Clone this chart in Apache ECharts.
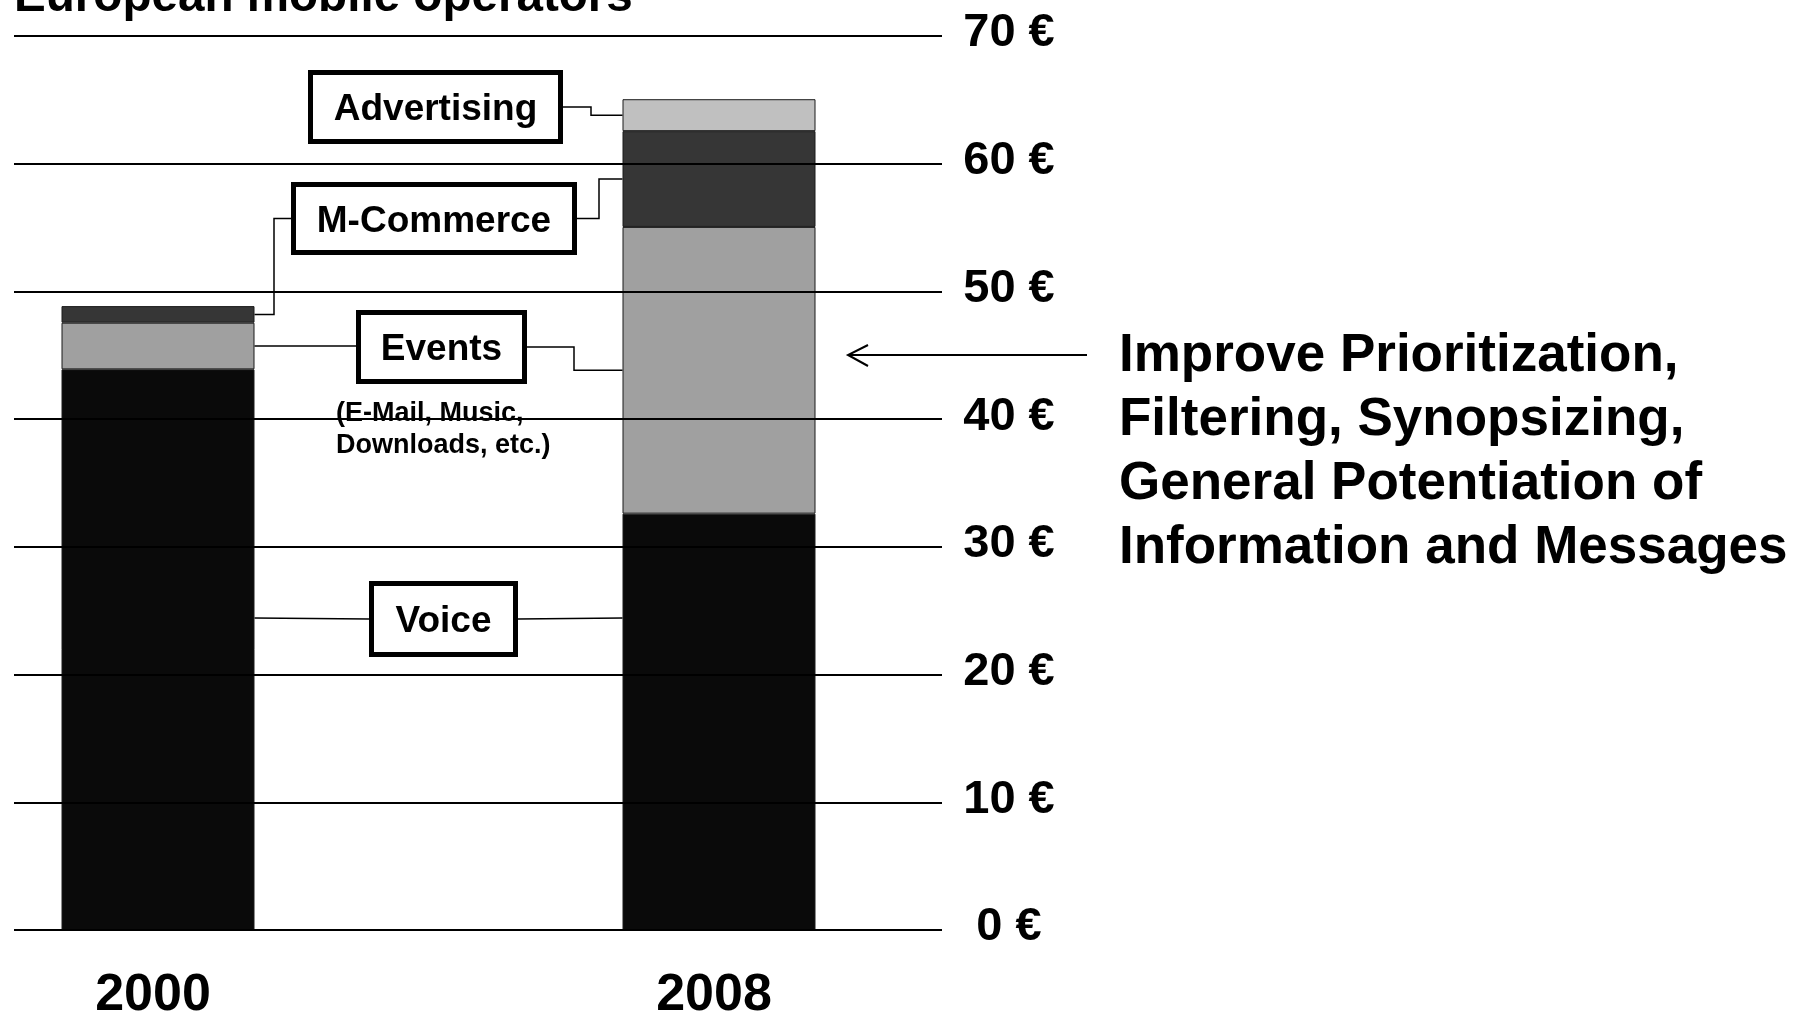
<!DOCTYPE html>
<html>
<head>
<meta charset="utf-8">
<script src="https://cdn.jsdelivr.net/npm/echarts@6/dist/echarts.min.js"></script>
<style>
html,body{margin:0;padding:0;background:#fff;}
#main{width:1805px;height:1013px;}
</style>
</head>
<body>
<div id="main"></div>
<script>
// ---- data ----
const years = ['2000', '2008'];
const voice = [43.9, 32.6];
const events = [3.65, 22.45];
const mcommerce = [1.3, 7.5];
const advertising = [null, 2.5];
const yTickValues = [0, 10, 20, 30, 40, 50, 60, 70];
const titleText = 'European mobile operators';
const sideText = ['Improve Prioritization,', 'Filtering, Synopsizing,', 'General Potentiation of', 'Information and Messages'];
const eventsNote = ['(E-Mail, Music,', 'Downloads, etc.)'];

const FONT = '"Liberation Sans", Arial, Helvetica, sans-serif';
const BAR_W = 193;

const seriesDefs = [
  { name: 'Voice', data: voice, color: '#0a0a0a' },
  { name: 'Events', data: events, color: '#a0a0a0' },
  { name: 'M-Commerce', data: mcommerce, color: '#363636' },
  { name: 'Advertising', data: advertising, color: '#c0c0c0' }
];

const chart = echarts.init(document.getElementById('main'), null, { renderer: 'canvas' });

const option = {
  backgroundColor: '#fff',
  animation: false,
  grid: [
    { left: 14, right: 863, top: 36, bottom: 83, containLabel: false, outerBoundsMode: 'none' },
    { left: -122.5, width: 1122, top: 36, bottom: 83, containLabel: false, outerBoundsMode: 'none' }
  ],
  xAxis: [
    { gridIndex: 0, type: 'value', min: 0, max: 1, show: false },
    {
      gridIndex: 1,
      type: 'category',
      data: years,
      splitLine: { show: false },
      axisLine: { show: false },
      axisTick: { show: false },
      axisLabel: {
        interval: 0,
        color: '#000',
        fontFamily: FONT,
        fontWeight: 'bold',
        fontSize: 52,
        margin: 40,
        padding: [0, 10, 0, 0]
      }
    }
  ],
  yAxis: [
    {
      gridIndex: 0,
      type: 'value',
      position: 'right',
      min: yTickValues[0],
      max: yTickValues[yTickValues.length - 1],
      interval: 10,
      z: 5,
      axisLine: { show: false },
      axisTick: { show: false },
      splitLine: { show: true, lineStyle: { color: '#000', width: 2 } },
      axisLabel: {
        formatter: v => v + ' €',
        color: '#000',
        fontFamily: FONT,
        fontWeight: 'bold',
        fontSize: 47,
        align: 'center',
        verticalAlign: 'bottom',
        lineHeight: 5,
        margin: 67
      }
    },
    {
      gridIndex: 1,
      type: 'value',
      min: yTickValues[0],
      max: yTickValues[yTickValues.length - 1],
      show: false
    }
  ],
  series: seriesDefs.map(s => ({
    name: s.name,
    type: 'bar',
    xAxisIndex: 1,
    yAxisIndex: 1,
    stack: 'total',
    barWidth: BAR_W,
    data: s.data,
    itemStyle: { color: s.color, borderColor: '#1a1a1a', borderWidth: 1 }
  }))
};

chart.setOption(option);

// ---- annotations (positions derived from the chart's own scale) ----
function toPx(cat, v) { return chart.convertToPixel({ xAxisIndex: 1, yAxisIndex: 1 }, [cat, v]); }
function segMid(arrs, idx, yearIdx) {
  let base = 0;
  for (let k = 0; k < idx; k++) base += (arrs[k][yearIdx] || 0);
  return base + (arrs[idx][yearIdx] || 0) / 2;
}
const stackArrs = [voice, events, mcommerce, advertising];
const x2000R = toPx(years[0], 0)[0] + BAR_W / 2;
const x2008L = toPx(years[1], 0)[0] - BAR_W / 2;
const yOf = v => toPx(years[0], v)[1];

const boxes = [
  { label: 'Advertising', x: 308, y: 70, w: 255, h: 74 },
  { label: 'M-Commerce', x: 291, y: 182, w: 286, h: 73 },
  { label: 'Events', x: 356, y: 310, w: 171, h: 74 },
  { label: 'Voice', x: 369, y: 581, w: 149, h: 76 }
];
const cy = b => b.y + b.h / 2;
const [bAdv, bMc, bEv, bVo] = boxes;

const yAdv08 = yOf(segMid(stackArrs, 3, 1));
const yMc08 = yOf(segMid(stackArrs, 2, 1));
const yMc00 = yOf(segMid(stackArrs, 2, 0));
const yEv00 = yOf(segMid(stackArrs, 1, 0));
const yEv08 = yOf(segMid(stackArrs, 1, 1));

const connectors = [
  [[bAdv.x + bAdv.w, cy(bAdv)], [591, cy(bAdv)], [591, yAdv08], [x2008L, yAdv08]],
  [[bMc.x + bMc.w, cy(bMc)], [599, cy(bMc)], [599, yMc08], [x2008L, yMc08]],
  [[bMc.x, cy(bMc)], [274, cy(bMc)], [274, yMc00], [x2000R, yMc00]],
  [[x2000R, yEv00], [bEv.x, yEv00]],
  [[bEv.x + bEv.w, cy(bEv)], [574, cy(bEv)], [574, yEv08], [x2008L, yEv08]],
  [[x2000R, cy(bVo) - 1], [bVo.x, cy(bVo)]],
  [[bVo.x + bVo.w, cy(bVo)], [x2008L, cy(bVo) - 1]]
];

const graphics = [];
connectors.forEach(pts => graphics.push({
  type: 'polyline', z: 100, shape: { points: pts },
  style: { stroke: '#000', lineWidth: 1.5, fill: null }
}));
boxes.forEach(b => {
  graphics.push({
    type: 'rect', z: 101,
    shape: { x: b.x + 2.5, y: b.y + 2.5, width: b.w - 5, height: b.h - 5 },
    style: { fill: '#fff', stroke: '#000', lineWidth: 5 }
  });
  graphics.push({
    type: 'text', z: 102, x: b.x + b.w / 2, y: b.y + b.h / 2 + 3,
    style: { text: b.label, fill: '#000', font: 'bold 37px ' + FONT, align: 'center', verticalAlign: 'middle' }
  });
});
graphics.push({
  type: 'text', z: 102, x: 336, y: 398,
  style: { text: eventsNote.join('\n'), fill: '#000', font: 'bold 27px ' + FONT, lineHeight: 32, align: 'left', verticalAlign: 'top' }
});
graphics.push({
  type: 'text', z: 102, x: 14, y: -2.5,
  style: { text: titleText, fill: '#000', font: 'bold 47.6px ' + FONT, align: 'left', verticalAlign: 'middle' }
});
graphics.push({
  type: 'text', z: 102, x: 1119, y: 324,
  style: { text: sideText.join('\n'), fill: '#000', font: 'bold 53px ' + FONT, lineHeight: 64, align: 'left', verticalAlign: 'top' }
});
// arrow
graphics.push({
  type: 'line', z: 100, shape: { x1: 1087, y1: 355, x2: 848, y2: 355 },
  style: { stroke: '#000', lineWidth: 2 }
});
graphics.push({
  type: 'polyline', z: 100, shape: { points: [[868, 345], [848, 355], [868, 366]] },
  style: { stroke: '#000', lineWidth: 2, fill: null }
});

chart.setOption({ graphic: graphics });
</script>
</body>
</html>
